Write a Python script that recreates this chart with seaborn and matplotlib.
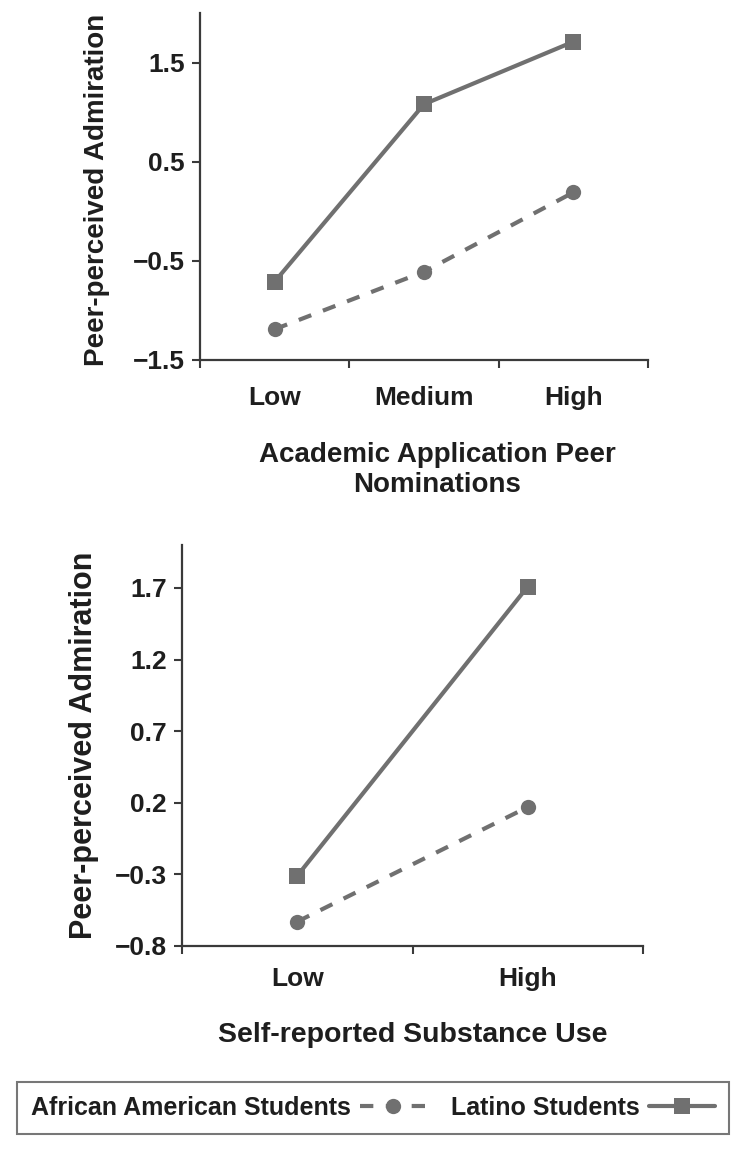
import matplotlib
matplotlib.use("Agg")
import matplotlib.pyplot as plt
import seaborn as sns
import pandas as pd
from matplotlib.ticker import FixedLocator, NullFormatter

# ---------------- data ----------------
groups = ["African American Students", "Latino Students"]

top_levels = ["Low", "Medium", "High"]
top_african_american = [-1.19, -0.61, 0.19]
top_latino = [-0.71, 1.08, 1.71]
top_yticks = [-1.5, -0.5, 0.5, 1.5]
top_xlabel = "Academic Application Peer\nNominations"

bot_levels = ["Low", "High"]
bot_african_american = [-0.63, 0.17]
bot_latino = [-0.31, 1.71]
bot_yticks = [-0.8, -0.3, 0.2, 0.7, 1.2, 1.7]
bot_xlabel = "Self-reported Substance Use"

ylabel = "Peer-perceived Admiration"

# ---------------- style ----------------
sns.set_theme(style="ticks")
plt.rcParams["font.family"] = ["Liberation Sans", "DejaVu Sans"]
plt.rcParams["font.weight"] = "bold"
plt.rcParams["axes.labelweight"] = "bold"

LINE = "#707070"
SPINE = "#3a3a3a"
TEXT = "#1e1e1e"
FS_TICK = 19
FS_LEG = 18

fig = plt.figure(figsize=(7.5, 11.49), dpi=100)
ax1 = fig.add_axes([0.2667, 0.6867, 0.5973, 0.302])
ax2 = fig.add_axes([0.2427, 0.1767, 0.6147, 0.349])


def make_df(levels, aa, lat):
    rows = []
    for lv, v in zip(levels, aa):
        rows.append({"level": lv, "value": v, "group": groups[0]})
    for lv, v in zip(levels, lat):
        rows.append({"level": lv, "value": v, "group": groups[1]})
    return pd.DataFrame(rows)


def draw(ax, levels, aa, lat, yticks, ylim, xlabel, xlab_coords, ylab_coords, labpad,
         fs_x, fs_y):
    df = make_df(levels, aa, lat)
    df["pos"] = df["level"].map({lv: i for i, lv in enumerate(levels)})
    sns.lineplot(data=df, x="pos", y="value", hue="group", style="group",
                 hue_order=groups, style_order=groups,
                 palette=[LINE, LINE],
                 dashes={groups[0]: (3.2, 3.0), groups[1]: ""},
                 markers={groups[0]: "o", groups[1]: "s"},
                 markersize=11, linewidth=3.0, markeredgewidth=0,
                 ax=ax, legend=True)
    n = len(levels)
    ax.set_xlim(-0.5, n - 0.5)
    ax.set_ylim(*ylim)
    # major ticks at category boundaries, labels at category centres
    ax.xaxis.set_major_locator(FixedLocator([i - 0.5 for i in range(n + 1)]))
    ax.xaxis.set_major_formatter(NullFormatter())
    ax.xaxis.set_minor_locator(FixedLocator(list(range(n))))
    ax.set_xticklabels(levels, minor=True)
    ax.tick_params(axis="x", which="major", length=6, width=1.5, color=SPINE, direction="out")
    ax.tick_params(axis="x", which="minor", length=0, pad=labpad, labelsize=FS_TICK,
                   labelcolor=TEXT)
    ax.set_yticks(yticks)
    ax.set_yticklabels([f"{t:.1f}".replace("-", "\u2212") for t in yticks])
    ax.tick_params(axis="y", length=6, width=1.5, color=SPINE, direction="out", pad=5,
                   labelsize=FS_TICK, labelcolor=TEXT)
    for side in ["top", "right"]:
        ax.spines[side].set_visible(False)
    for side in ["left", "bottom"]:
        ax.spines[side].set_color(SPINE)
        ax.spines[side].set_linewidth(1.6)
    ax.set_xlabel(xlabel, fontsize=fs_x, color=TEXT, fontweight="bold", linespacing=1.2)
    ax.set_ylabel(ylabel, fontsize=fs_y, color=TEXT, fontweight="bold")
    ax.xaxis.set_label_coords(*xlab_coords)
    ax.yaxis.set_label_coords(*ylab_coords)
    for lbl in ax.get_xticklabels(minor=True) + ax.get_yticklabels():
        lbl.set_fontweight("bold")


draw(ax1, top_levels, top_african_american, top_latino, top_yticks, (-1.5, 2.0),
     top_xlabel, (0.53, -0.235), (-0.2, 0.49), 19, 20, 20)
draw(ax2, bot_levels, bot_african_american, bot_latino, bot_yticks, (-0.8, 2.0),
     bot_xlabel, (0.5, -0.19), (-0.18, 0.5), 15, 20.5, 22)

handles, labels = ax1.get_legend_handles_labels()
ax1.get_legend().remove()
ax2.get_legend().remove()

leg = fig.legend(handles, labels, loc="center", bbox_to_anchor=(0.4973, 1 - 1108 / 1149),
                 ncol=2, markerfirst=False, frameon=True, fancybox=False, fontsize=FS_LEG,
                 handlelength=2.65, handletextpad=0.35, columnspacing=1.0,
                 borderpad=0.55, borderaxespad=0)
leg.get_frame().set_edgecolor("#555555")
leg.get_frame().set_linewidth(1.5)
for t in leg.get_texts():
    t.set_fontweight("bold")
    t.set_color(TEXT)

fig.savefig("out.png", dpi=100, facecolor="white")
